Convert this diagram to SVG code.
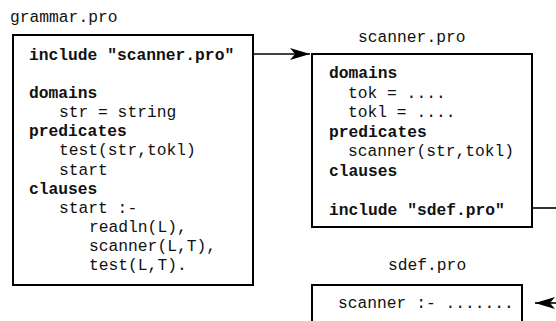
<svg xmlns="http://www.w3.org/2000/svg" width="556" height="321" viewBox="0 0 556 321">
<defs>
<marker id="ah" markerWidth="20" markerHeight="12" refX="20" refY="6" orient="auto" markerUnits="userSpaceOnUse">
<path d="M0,0 L20,6 L0,12 L5,6 Z" fill="#000"/>
</marker>
</defs>
<style>
text{font-family:"Liberation Mono","DejaVu Sans Mono",monospace;font-size:16.3px;fill:#111}
.k{font-weight:bold}
.box{fill:#fff;stroke:#000;stroke-width:2}
.c{fill:none;stroke:#000;stroke-width:1.6}
</style>
<rect width="556" height="321" fill="#fff"/>
<g id="grammar">
<text x="10" y="22">grammar.pro</text>
<rect class="box" x="13" y="35" width="240" height="250"/>
<text class="k" x="29" y="60">include "scanner.pro"</text>
<text class="k" x="29" y="98">domains</text>
<text x="59" y="117">str = string</text>
<text class="k" x="29" y="136">predicates</text>
<text x="59" y="155">test(str,tokl)</text>
<text x="59" y="175">start</text>
<text class="k" x="29" y="194">clauses</text>
<text x="59" y="213">start :-</text>
<text x="89" y="232">readln(L),</text>
<text x="89" y="251">scanner(L,T),</text>
<text x="89" y="270">test(L,T).</text>
</g>
<g id="scanner">
<text x="358" y="42">scanner.pro</text>
<rect class="box" x="312" y="54" width="220" height="173"/>
<text class="k" x="329" y="78">domains</text>
<text x="348" y="97.5">tok = ....</text>
<text x="348" y="117">tokl = ....</text>
<text class="k" x="329" y="136.5">predicates</text>
<text x="348" y="156">scanner(str,tokl)</text>
<text class="k" x="329" y="175.5">clauses</text>
<text class="k" x="329" y="214.5">include "sdef.pro"</text>
</g>
<g id="sdef">
<text x="388" y="270">sdef.pro</text>
<rect class="box" x="312" y="285" width="210" height="50"/>
<text x="338" y="308">scanner :- .......</text>
</g>
<g id="connectors">
<path class="c" d="M253,54 L310,54" marker-end="url(#ah)"/>
<path class="c" d="M532,208 L558,208"/>
<path class="c" d="M558,303 L535,303" marker-end="url(#ah)"/>
</g>
</svg>
